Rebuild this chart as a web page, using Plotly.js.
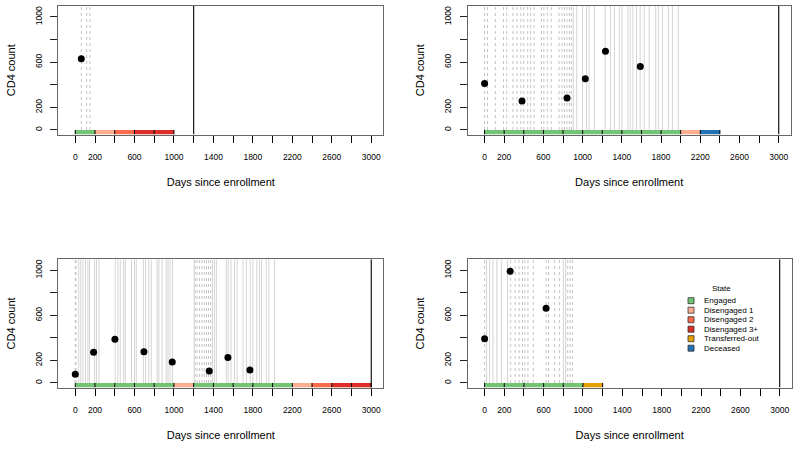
<!DOCTYPE html>
<html><head><meta charset="utf-8">
<script src="https://cdn.plot.ly/plotly-3.0.1.min.js"></script>
<style>html,body{margin:0;padding:0;background:#fff}#chart{width:800px;height:449px}</style>
</head><body><div id="chart"></div>
<script>
// ---------- data ----------
const stateNames  = ["Engaged", "Disengaged 1", "Disengaged 2", "Disengaged 3+", "Transferred-out", "Deceased"];
const intervalDays = 200;

// Panel 1
const p1CD4Days = [61];
const p1CD4 = [630];
const p1DashedDays = [61, 115, 149];
const p1SolidDays = [];
const p1States = ["Engaged", "Disengaged 1", "Disengaged 2", "Disengaged 3+", "Disengaged 3+"];
const p1EndDay = 1200;

// Panel 2
const p2CD4Days = [0, 382, 841, 1027, 1233, 1588];
const p2CD4 = [412, 256, 282, 453, 697, 562];
const p2DashedDays = [0, 30, 110, 193, 225, 290, 330, 370, 400, 440, 470, 505, 580, 605, 640, 680, 760, 790, 815, 840, 865, 885];
const p2SolidDays = [905, 940, 1000, 1040, 1065, 1120, 1230, 1284, 1325, 1374, 1402, 1462, 1486, 1513, 1550, 1587, 1628, 1679, 1746, 1773, 1814, 1875, 1915, 1976];
const p2States = ["Engaged", "Engaged", "Engaged", "Engaged", "Engaged", "Engaged", "Engaged", "Engaged", "Engaged", "Engaged", "Disengaged 1", "Deceased"];
const p2EndDay = 3000;

// Panel 3
const p3CD4Days = [0, 186, 402, 696, 983, 1358, 1547, 1770];
const p3CD4 = [77, 272, 388, 278, 186, 107, 225, 115];
const p3DashedDays = [0, 8, 1215, 1235, 1260, 1285, 1308, 1330, 1350, 1372];
const p3SolidDays = [35, 55, 78, 104, 128, 145, 196, 215, 240, 405, 432, 456, 490, 507, 570, 600, 618, 690, 713, 745, 770, 830, 848, 880, 922, 940, 960, 985, 1205, 1390, 1410, 1430, 1530, 1550, 1578, 1615, 1640, 1700, 1735, 1773, 1800, 1840, 1868, 1888, 1936, 1962, 2020];
const p3States = ["Engaged", "Engaged", "Engaged", "Engaged", "Engaged", "Disengaged 1", "Engaged", "Engaged", "Engaged", "Engaged", "Engaged", "Disengaged 1", "Disengaged 2", "Disengaged 3+", "Disengaged 3+"];
const p3EndDay = 3000;

// Panel 4
const p4CD4Days = [0, 260, 625];
const p4CD4 = [393, 990, 663];
const p4DashedDays = [0, 265, 311, 350, 385, 410, 440, 495, 625, 650, 710, 760, 845, 868, 892];
const p4SolidDays = [20, 50, 85, 125, 170, 233, 800, 824];
const p4States = ["Engaged", "Engaged", "Engaged", "Engaged", "Engaged", "Transferred-out"];
const p4EndDay = 3000;

// Axis ticks
const xTickVals = [0, 200, 400, 600, 800, 1000, 1200, 1400, 1600, 1800, 2000, 2200, 2400, 2600, 2800, 3000];
const xTickText = ["0", "200", "", "600", "", "1000", "", "1400", "", "1800", "", "2200", "", "2600", "", "3000"];
const yTickVals = [0, 200, 400, 600, 800, 1000];
const yTickText = ["0", "200", "", "600", "", "1000"];

// ---------- style ----------
const stateColors = {"Engaged": "#74c476", "Disengaged 1": "#fcae91", "Disengaged 2": "#fb6a4a",
  "Disengaged 3+": "#de2d26", "Transferred-out": "#e69f00", "Deceased": "#2171b5"};
const FONT = "Liberation Sans, Arial, Helvetica, sans-serif";
const W = 800, H = 449;
const X_RANGE = [-172, 3122];
const Y_RANGE = [-40, 1097];
const boxes = [[58.3, 6, 383.3, 134.5], [467.7, 6, 790.7, 134.5], [58.3, 259.3, 383.3, 387.5], [467.7, 259.3, 791.7, 387.5]];

const panels = [
  {days: p1CD4Days, cd4: p1CD4, dashed: p1DashedDays, solid: p1SolidDays, states: p1States, end: p1EndDay},
  {days: p2CD4Days, cd4: p2CD4, dashed: p2DashedDays, solid: p2SolidDays, states: p2States, end: p2EndDay},
  {days: p3CD4Days, cd4: p3CD4, dashed: p3DashedDays, solid: p3SolidDays, states: p3States, end: p3EndDay},
  {days: p4CD4Days, cd4: p4CD4, dashed: p4DashedDays, solid: p4SolidDays, states: p4States, end: p4EndDay}
];

function vlines(xs, y0, y1) {
  const x = [], y = [];
  xs.forEach(v => { x.push(v, v, null); y.push(y0, y1, null); });
  return {x, y};
}

const traces = [];
const layout = {
  width: W, height: H, margin: {l: 0, r: 0, t: 0, b: 0},
  paper_bgcolor: "#fff", plot_bgcolor: "#fff",
  showlegend: false, barmode: "overlay",
  font: {family: FONT, color: "#000"},
  shapes: [], annotations: []
};

panels.forEach((p, i) => {
  const sfx = i === 0 ? "" : String(i + 1);
  const xa = "x" + sfx, ya = "y" + sfx;
  const b = boxes[i];

  const sl = vlines(p.solid, 0, Y_RANGE[1]);
  traces.push({type: "scatter", mode: "lines", x: sl.x, y: sl.y, xaxis: xa, yaxis: ya,
    line: {color: "#d4d4d4", width: 1}, hoverinfo: "skip"});
  const dl = vlines(p.dashed, 0, Y_RANGE[1]);
  traces.push({type: "scatter", mode: "lines", x: dl.x, y: dl.y, xaxis: xa, yaxis: ya,
    line: {color: "#c4c4c4", width: 1, dash: "3px,3px"}, hoverinfo: "skip"});

  // state bar
  const cx = p.states.map((s, k) => k * intervalDays + intervalDays / 2);
  traces.push({type: "bar", x: cx, y: p.states.map(() => -Y_RANGE[0]), base: Y_RANGE[0],
    width: p.states.map(() => intervalDays), xaxis: xa, yaxis: ya,
    marker: {color: p.states.map(s => stateColors[s]), line: {width: 0}}, hoverinfo: "skip"});
  const bounds = p.states.map((s, k) => k * intervalDays).concat([p.states.length * intervalDays]);
  const bl = vlines(bounds, 0, Y_RANGE[0]);
  traces.push({type: "scatter", mode: "lines", x: bl.x, y: bl.y, xaxis: xa, yaxis: ya,
    line: {color: "#000", width: 1}, hoverinfo: "skip"});

  // end of follow-up
  const el = vlines([p.end], Y_RANGE[0], Y_RANGE[1]);
  traces.push({type: "scatter", mode: "lines", x: el.x, y: el.y, xaxis: xa, yaxis: ya,
    line: {color: "#000", width: 1.1}, hoverinfo: "skip"});

  // CD4 points
  traces.push({type: "scatter", mode: "markers", x: p.days, y: p.cd4, xaxis: xa, yaxis: ya,
    marker: {color: "#000", size: 7}});

  layout["xaxis" + sfx] = {
    domain: [b[0] / W, b[2] / W], range: X_RANGE, anchor: ya,
    tickmode: "array", tickvals: xTickVals, ticktext: xTickText,
    ticks: "outside", ticklen: 7, tickcolor: "#000", tickwidth: 1,
    ticklabelstandoff: 7,
    showline: true, linecolor: "#666", linewidth: 1, mirror: true,
    showgrid: false, zeroline: false, tickfont: {size: 8.5, family: FONT},
    title: {text: "Days since enrollment", font: {size: 11, family: FONT}, standoff: 17}
  };
  layout["yaxis" + sfx] = {
    domain: [1 - b[3] / H, 1 - b[1] / H], range: Y_RANGE, anchor: xa,
    tickmode: "array", tickvals: yTickVals, ticktext: yTickText, tickangle: -90,
    ticks: "outside", ticklen: 7, tickcolor: "#222", tickwidth: 1,
    ticklabelstandoff: 5,
    showline: true, linecolor: "#666", linewidth: 1, mirror: true,
    showgrid: false, zeroline: false, tickfont: {size: 8.5, family: FONT},
    title: {text: "CD4 count", font: {size: 11, family: FONT}, standoff: 16}
  };
});

// legend (inside panel 4)
const legX = 688, legTextX = 701.5, legTitleY = 288.3, legY0 = 300.7, legStep = 9.5;
layout.annotations.push({xref: "paper", yref: "paper", x: 721.7 / W, y: 1 - legTitleY / H,
  text: "State", showarrow: false, xanchor: "center", yanchor: "middle", font: {size: 8, family: FONT}});
stateNames.forEach((s, k) => {
  const yc = legY0 + k * legStep;
  layout.annotations.push({xref: "paper", yref: "paper", x: legTextX / W, y: 1 - yc / H,
    text: s, showarrow: false, xanchor: "left", yanchor: "middle", font: {size: 8, family: FONT}});
  layout.shapes.push({type: "rect", xref: "paper", yref: "paper",
    x0: legX / W, x1: (legX + 6) / W, y0: 1 - (yc + 3) / H, y1: 1 - (yc - 3) / H,
    fillcolor: stateColors[s], line: {color: "#333", width: 0.8}});
});

Plotly.newPlot("chart", traces, layout, {staticPlot: true, displayModeBar: false});
</script></body></html>
